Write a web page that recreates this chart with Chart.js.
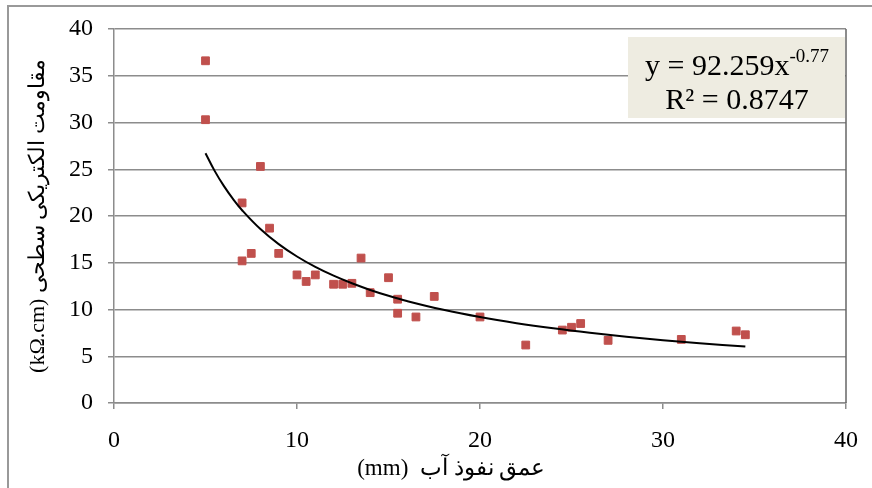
<!DOCTYPE html>
<html>
<head>
<meta charset="utf-8">
<script src="https://cdn.jsdelivr.net/npm/chart.js@4/dist/chart.umd.min.js"></script>
<style>
  body { margin: 0; background: #fff; }
  #frame { position: absolute; left: 7px; top: 5px; width: 880px; height: 500px; border-left: 2px solid #999; border-top: 2px solid #999; }
  #wrap { position: absolute; left: 0; top: 0; width: 872px; height: 488px; }
</style>
</head>
<body>
<div id="frame"></div>
<div id="wrap"><canvas id="myChart" width="872" height="488"></canvas></div>
<script>
// Data
var depth = [5, 5, 8, 7, 7, 7.5, 8.5, 9, 10, 10.5, 11, 12, 12.5, 13, 13.5, 14, 15, 15.5, 15.5, 16.5, 17.5, 20, 22.5, 24.5, 25, 25.5, 27, 31, 34, 34.5];
var resistance = [36.6, 30.3, 25.3, 21.4, 15.2, 16.0, 18.7, 16.0, 13.7, 13.0, 13.7, 12.7, 12.7, 12.8, 15.5, 11.8, 13.4, 11.1, 9.6, 9.2, 11.4, 9.2, 6.2, 7.8, 8.1, 8.5, 6.7, 6.8, 7.7, 7.3];

// power trendline as printed on the chart
var trendA = 92.259;
var trendB = -0.77;
var trendX = [5, 5.5, 6, 6.5, 7, 8, 9, 10, 11, 12, 13, 14, 15, 16, 18, 20, 22, 24, 26, 28, 30, 32, 34.5];

var yTicks = [0, 5, 10, 15, 20, 25, 30, 35, 40];
var xTicks = [0, 10, 20, 30, 40];

var points = depth.map(function (d, i) { return { x: d, y: resistance[i] }; });
var trend = trendX.map(function (x) { return { x: x, y: trendA * Math.pow(x, trendB) }; });

var serif = "'Liberation Serif', 'Times New Roman', serif";

// equation box + right edge line
var extras = {
  id: "extras",
  afterDraw: function (chart) {
    var c = chart.ctx, a = chart.chartArea;
    c.save();
    c.strokeStyle = "#666";
    c.lineWidth = 1.5;
    c.beginPath();
    c.moveTo(a.right, a.top);
    c.lineTo(a.right, a.bottom);
    c.stroke();

    var bx = a.right - 218, by = a.top + 8;
    c.fillStyle = "#EEECE1";
    c.fillRect(bx, by, 217, 81);
    c.fillStyle = "#000";
    c.textBaseline = "alphabetic";
    var main = "y = 92.259x";
    var sup = "-0.77";
    c.font = "19px " + serif;
    var supW = c.measureText(sup).width;
    c.font = "30px " + serif;
    var mainW = c.measureText(main).width;
    var sx = bx + 109 - (mainW + supW) / 2;
    c.textAlign = "left";
    c.fillText(main, sx, by + 38);
    c.font = "19px " + serif;
    c.fillText(sup, sx + mainW, by + 25);
    c.font = "30px " + serif;
    c.textAlign = "center";
    c.fillText("R\u00B2 = 0.8747", bx + 109, by + 72);
    c.restore();
  }
};

var ctx = document.getElementById("myChart").getContext("2d");

var myChart = new Chart(ctx, {
  type: "scatter",
  data: {
    datasets: [
      {
        data: trend,
        type: "line",
        showLine: true,
        borderColor: "#000",
        borderWidth: 2,
        pointRadius: 0,
        tension: 0.4,
        fill: false,
      },
      {
        data: points,
        backgroundColor: "#C0504D",
        borderColor: "#C0504D",
        pointStyle: "rect",
        pointRadius: 5.5,
        pointHoverRadius: 5.5,
      },
    ],
  },
  options: {
    responsive: false,
    animation: false,
    layout: { padding: { left: 16, right: 26, top: 29, bottom: 0 } },
    plugins: { legend: { display: false }, tooltip: { enabled: false } },
    scales: {
      x: {
        type: "linear",
        min: 0,
        max: 40,
        afterBuildTicks: function (s) { s.ticks = xTicks.map(function (v) { return { value: v }; }); },
        afterFit: function (s) { s.height = 85; s.paddingLeft = 0; s.paddingRight = 0; },
        grid: { drawOnChartArea: false, drawTicks: true, tickLength: 6, color: "#8c8c8c", lineWidth: 1.5 },
        border: { color: "#8c8c8c", width: 1.5 },
        ticks: { color: "#000", font: { family: serif, size: 24 }, padding: 17, maxRotation: 0 },
        title: {
          display: true,
          text: "(mm)  عمق نفوذ آب" + "\u00A0\u00A0\u00A0\u00A0\u00A0\u00A0\u00A0\u00A0\u00A0\u00A0",
          color: "#000",
          font: { family: serif, size: 23 },
          padding: { top: 0, bottom: 5 },
        },
      },
      y: {
        min: 0,
        max: 40,
        afterBuildTicks: function (s) { s.ticks = yTicks.map(function (v) { return { value: v }; }); },
        afterFit: function (s) { s.width = 98; s.paddingTop = 0; s.paddingBottom = 0; },
        grid: { drawTicks: true, tickLength: 6, color: "#8c8c8c", lineWidth: 1.5 },
        border: { color: "#8c8c8c", width: 1.5 },
        ticks: { color: "#000", font: { family: serif, size: 24 }, padding: 15 },
        title: {
          display: true,
          text: "(kΩ.cm) مقاومت الکتریکی سطحی",
          color: "#000",
          font: { family: serif, size: 22 },
          padding: { top: 9, bottom: 0 },
        },
      },
    },
  },
  plugins: [extras],
});
</script>
</body>
</html>
